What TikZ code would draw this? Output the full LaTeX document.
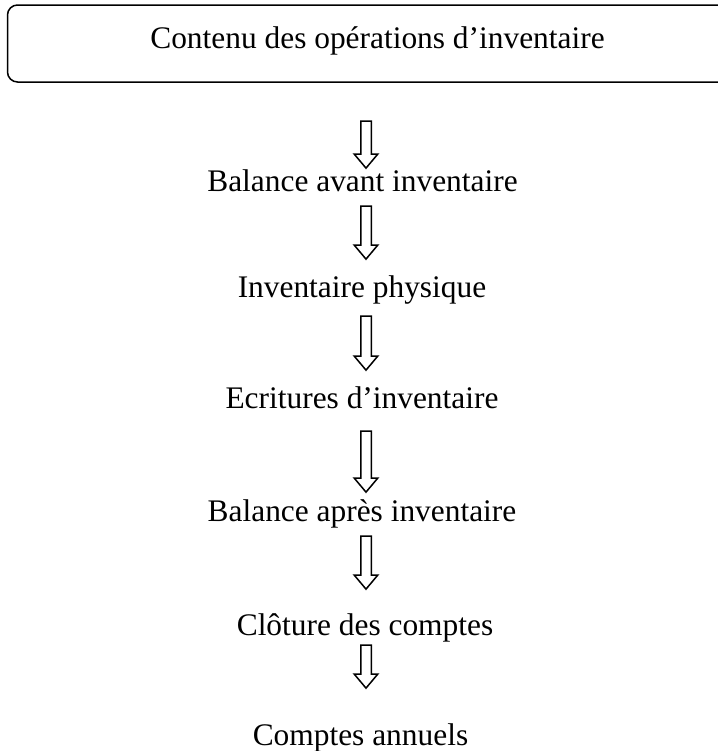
\documentclass[tikz,border=0pt]{standalone}
\usepackage{fontspec}
\setmainfont{Liberation Serif}
\usepackage{tikz}
\usetikzlibrary{shapes.arrows, positioning}

\tikzset{
    etape/.style={anchor=base, inner sep=0pt, font=\fontsize{15.7}{18}\selectfont},
    fleche/.style={single arrow, draw, line width=0.75pt, rotate=-90,
        inner xsep=0pt, inner ysep=2.25pt, single arrow head extend=3.25pt,
        single arrow tip angle=80, minimum height=#1}
}

\begin{document}
\begin{tikzpicture}[x=0.5pt, y=-0.5pt]
    \path[use as bounding box, clip] (0,0) rectangle (718,751);

    \node[draw, line width=0.75pt, rounded corners=5pt, inner sep=0pt, minimum width=370pt,
          text height=21.5pt, text depth=17pt, font=\fontsize{15.7}{18}\selectfont] (titre) at (377.5,43.5)
        {Contenu des opérations d’inventaire};

    \node[etape] (bal1) at (362.5,191) {Balance avant inventaire};
    \node[etape] (inv)  at (362,297)   {Inventaire physique};
    \node[etape] (ecr)  at (362,408)   {Ecritures d’inventaire};
    \node[etape] (bal2) at (362,521)   {Balance après inventaire};
    \node[etape] (clo)  at (365,635)   {Clôture des comptes};
    \node[etape] (cpt)  at (360.5,745) {Comptes annuels};

    % fleches creuses entre les etapes
    \node[fleche=23.5pt] (f1) at (366,141.5) {};
    \node[fleche=26.5pt] (f2) at (366,229.5) {};
    \node[fleche=27pt]   (f3) at (366,340)   {};
    \node[fleche=30.5pt] (f4) at (366,458.5) {};
    \node[fleche=26.5pt] (f5) at (366,559.5) {};
    \node[fleche=21.5pt] (f6) at (366,663.5) {};
\end{tikzpicture}
\end{document}
